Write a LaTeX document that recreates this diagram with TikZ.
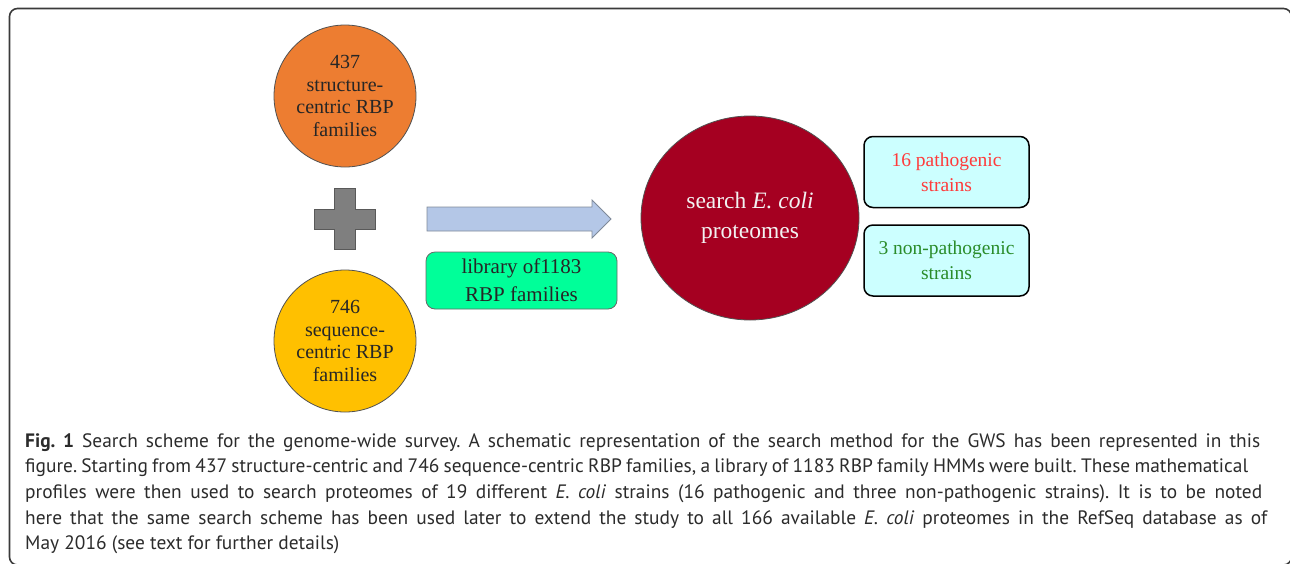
\documentclass[tikz,border=0pt]{standalone}
\usepackage{fontspec}
\usetikzlibrary{shapes.geometric}
\setmainfont{Liberation Serif}
\newfontfamily\capfont{PT Sans}
\definecolor{orangeC}{HTML}{ED7D31}
\definecolor{yellowC}{HTML}{FFC000}
\definecolor{redC}{HTML}{A50021}
\definecolor{arrowC}{HTML}{B4C7E7}
\definecolor{arrowB}{HTML}{7F8A99}
\definecolor{greenC}{HTML}{00FF99}
\definecolor{cyanC}{HTML}{CCFFFF}
\definecolor{plusC}{HTML}{7F7F7F}
\definecolor{plusB}{HTML}{595959}
\definecolor{txtC}{HTML}{262626}
\definecolor{pathC}{HTML}{FF3B3B}
\definecolor{nonpathC}{HTML}{2A8C2A}
\definecolor{capC}{HTML}{2B2B2B}
\definecolor{frameC}{HTML}{3A3A3A}
\tikzset{
  famcircle/.style={circle, draw=txtC!80, line width=0.8pt, minimum size=142pt, inner sep=0pt, align=center, text=txtC, font=\fontsize{20}{22.5}\selectfont},
  strainbox/.style={rounded corners=9pt, draw=black, line width=1.5pt, fill=cyanC, minimum width=165pt, minimum height=71pt, inner sep=0pt, align=center, font=\fontsize{19.5}{25}\selectfont},
  capline/.style={anchor=base west, inner sep=0pt, text=capC, font=\capfont\fontsize{19.4}{25}\selectfont\frenchspacing}
}
\begin{document}
\begin{tikzpicture}[x=1pt,y=-1pt]
\useasboundingbox (0,0) rectangle (1290,563);
% outer frame
\draw[frameC, line width=1.6pt, rounded corners=8pt] (9.5,8.5) rectangle (1291.5,565);
% family circles
\node[famcircle, fill=orangeC] (str) at (345,96) {437\\structure-\\centric RBP\\families};
\node[famcircle, fill=yellowC] (seq) at (345,341) {746\\sequence-\\centric RBP\\families};
% plus sign
\draw[fill=plusC, draw=plusB, line width=0.8pt]
  (334,188) -- (355,188) -- (355,209) -- (375,209) -- (375,229) -- (355,229) -- (355,249)
  -- (334,249) -- (334,229) -- (314,229) -- (314,209) -- (334,209) -- cycle;
% block arrow
\draw[fill=arrowC, draw=arrowB, line width=0.8pt]
  (427,207) -- (592,207) -- (592,200) -- (611,219) -- (592,238) -- (592,231) -- (427,231) -- cycle;
% library box
\node[rounded corners=9pt, draw=txtC!70, line width=0.8pt, fill=greenC, minimum width=191pt, minimum height=57pt, inner sep=0pt, align=center, text=txtC, font=\fontsize{21}{28}\selectfont] (lib) at (521.5,280.5) {library of1183\\RBP families};
% search ellipse
\node[ellipse, draw=txtC!80, line width=0.8pt, fill=redC, minimum width=218pt, minimum height=204pt, inner sep=0pt, align=center, text=white!95!black, font=\fontsize{23.5}{30}\selectfont] (srch) at (750,218) {search \textit{E. coli}\\proteomes};
% strain boxes
\node[strainbox, text=pathC] (path) at (946.5,172) {16 pathogenic\\strains};
\node[strainbox, text=nonpathC] (nonpath) at (946.5,260.5) {3 non-pathogenic\\strains};
% caption
\node[capline] (c1) at (25,447) {\makebox[1235pt][s]{\textbf{Fig. 1} Search scheme for the genome-wide survey. A schematic representation of the search method for the GWS has been represented in this}};
\node[capline] (c2) at (25,472.7) {\makebox[1223pt][s]{figure. Starting from 437 structure-centric and 746 sequence-centric RBP families, a library of 1183 RBP family HMMs were built. These mathematical}};
\node[capline] (c3) at (25,498.4) {\makebox[1237pt][s]{profiles were then used to search proteomes of 19 different \textit{E. coli} strains (16 pathogenic and three non-pathogenic strains). It is to be noted}};
\node[capline] (c4) at (25,524.1) {\makebox[1242pt][s]{here that the same search scheme has been used later to extend the study to all 166 available \textit{E. coli} proteomes in the RefSeq database as of}};
\node[capline] (c5) at (25,549.8) {May 2016 (see text for further details)};
\end{tikzpicture}
\end{document}
